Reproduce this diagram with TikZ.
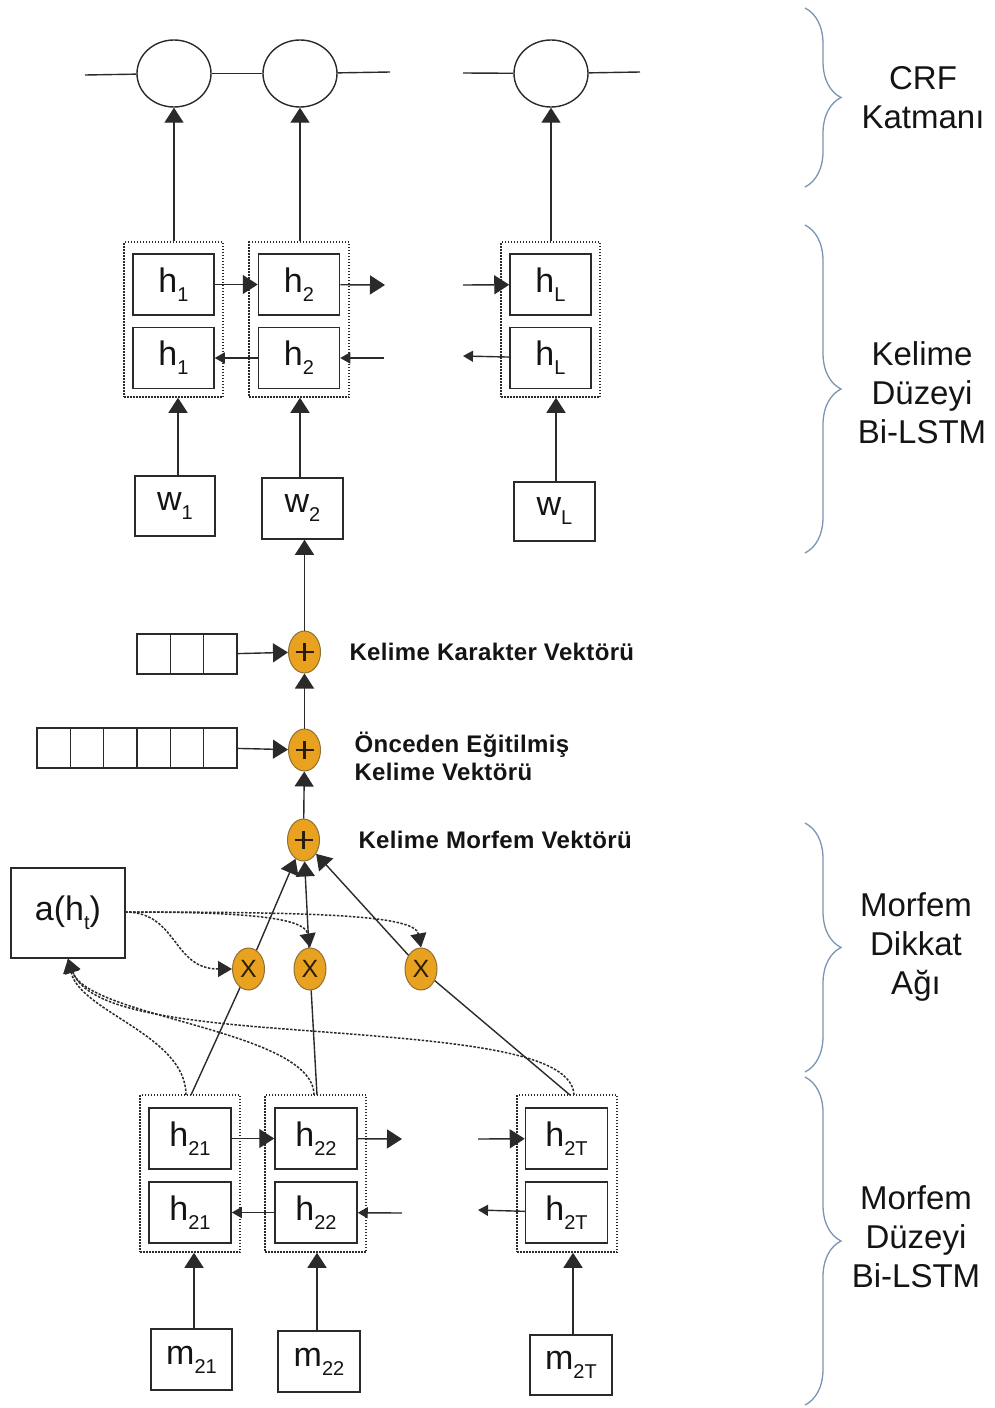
\documentclass[tikz,border=0pt]{standalone}
\usepackage{fontspec}
\setmainfont{Liberation Sans}
\newfontfamily\lblfont{Liberation Sans}[LetterSpace=1.5]
\usetikzlibrary{arrows.meta,decorations.pathreplacing,shapes.geometric}

\definecolor{linec}{HTML}{2A2A2A}
\definecolor{txtc}{HTML}{141414}
\definecolor{opfill}{HTML}{E9A21F}
\definecolor{opline}{HTML}{8E7036}
\definecolor{opmark}{HTML}{2A1E0A}
\definecolor{bracec}{HTML}{7A94B4}

% subscript used inside the boxes
\newcommand{\sbs}[1]{\raisebox{-9pt}{\fontsize{20}{20}\selectfont #1}}

\begin{document}
\begin{tikzpicture}[x=1pt,y=-1pt,
  every node/.style={text=txtc},
  cell/.style={draw=linec, line width=1.5pt, fill=white, inner sep=0pt,
    minimum width=81pt, minimum height=61pt, font=\fontsize{34}{34}\selectfont},
  grp/.style={draw=linec, line width=1.5pt, dash pattern=on 1.5pt off 1.5pt,
    inner sep=0pt},
  crf/.style={ellipse, draw=linec, line width=1.4pt, inner sep=0pt,
    minimum width=74pt, minimum height=67pt},
  op/.style={ellipse, fill=opfill, draw=opline, line width=1pt, inner sep=0pt,
    minimum width=32pt, minimum height=42pt},
  plusop/.style={op, path picture={
    \draw[line width=2.8pt, draw=opmark]
      ([xshift=-9pt]path picture bounding box.center) --
      ([xshift=9pt]path picture bounding box.center)
      ([yshift=-9pt]path picture bounding box.center) --
      ([yshift=9pt]path picture bounding box.center);}},
  mulop/.style={op, text=opmark, font=\fontsize{25}{25}\selectfont},
  vcell/.style={draw=linec, line width=1.2pt, inner sep=0pt,
    minimum width=33.33pt, minimum height=40pt},
  conn/.style={draw=linec, line width=1.4pt},
  arr/.style={conn, arrows={-Triangle[length=15pt,width=19pt]}},
  sarr/.style={conn, arrows={-Triangle[length=10pt,width=11pt]}},
  att/.style={draw=linec, line width=1.5pt, dash pattern=on 2.5pt off 1.5pt,
    arrows={-Triangle[length=14pt,width=16pt]}},
  brc/.style={draw=bracec, line width=1.3pt, decorate,
    decoration={brace, amplitude=36pt}},
  side/.style={align=center, font=\fontsize{33}{39}\selectfont},
  lbl/.style={anchor=west, align=left, font=\lblfont\bfseries\fontsize{24}{28}\selectfont}
]
\useasboundingbox (0,0) rectangle (995,1408);

% ---------- CRF layer ----------
\node[crf] (c1) at (174,73.5) {};
\node[crf] (c2) at (300,73.5) {};
\node[crf] (c3) at (551,73.5) {};
\coordinate (l0) at (85,75);
\coordinate (l1) at (390,72);
\coordinate (l2) at (463,73);
\coordinate (l3) at (640,72);
\draw[conn] (l0) -- (c1);
\draw[conn] (c1) -- (c2);
\draw[conn] (c2) -- (l1);
\draw[conn] (l2) -- (c3);
\draw[conn] (c3) -- (l3);

% ---------- word level Bi-LSTM ----------
\node[grp, minimum width=99pt, minimum height=155pt] (G1) at (173.5,319.5) {};
\node[grp, minimum width=100pt, minimum height=155pt] (G2) at (299,319.5) {};
\node[grp, minimum width=99pt, minimum height=155pt] (G3) at (550.5,319.5) {};
\node[cell] (f1) at (173.5,284.5) {h\sbs{1}};
\node[cell] (b1) at (173.5,358) {h\sbs{1}};
\node[cell] (f2) at (299,284.5) {h\sbs{2}};
\node[cell] (b2) at (299,358) {h\sbs{2}};
\node[cell] (fL) at (550.5,284.5) {h\sbs{L}};
\node[cell] (bL) at (550.5,358) {h\sbs{L}};

\coordinate (fo) at (385,285);
\coordinate (fi) at (463,285);
\coordinate (bi) at (384,358);
\coordinate (bo) at (463,356);
\draw[arr] (f1) -- (f2);
\draw[arr] (f2) -- (fo);
\draw[arr] (fi) -- (fL);
\draw[sarr] (b2) -- (b1);
\draw[sarr] (bi) -- (b2);
\draw[sarr] (bL) -- (bo);

\draw[arr] (G1.north -| c1) -- (c1.south);
\draw[arr] (G2.north -| c2) -- (c2.south);
\draw[arr] (G3.north -| c3) -- (c3.south);

\node[cell, minimum width=80pt, minimum height=60pt] (w1) at (175,506) {w\sbs{1}};
\node[cell] (w2) at (302.5,508.5) {w\sbs{2}};
\node[cell, minimum height=59pt] (wL) at (554.5,511.5) {w\sbs{L}};
\coordinate (w1t) at (178,476);
\coordinate (w2t) at (300,478);
\coordinate (wLt) at (556,482);
\draw[arr] (w1t) -- (w1t |- G1.south);
\draw[arr] (w2t) -- (w2t |- G2.south);
\draw[arr] (wLt) -- (wLt |- G3.south);

% ---------- combination of the word vectors ----------
\node[plusop] (P1) at (304.5,652) {};
\node[plusop] (P2) at (304.5,750) {};
\node[plusop] (P3) at (303.5,840) {};
\draw[arr] (P1.north) -- (P1.north |- w2.south);
\draw[arr] (P2) -- (P1);
\draw[arr] (P3) -- (P2);

\foreach \i in {1,2,3} {
  \node[vcell] (v3\i) at ({137+33.33*(\i-0.5)},654) {};
}
\foreach \i in {1,...,6} {
  \node[vcell] (v6\i) at ({37+33.33*(\i-0.5)},748) {};
}
\draw[arr] (v33) -- (P1);
\draw[arr] (v66) -- (P2);

\node[lbl] (t1) at (346,652) {Kelime Karakter Vektörü};
\node[lbl] (t2) at (351,756) {Önceden Eğitilmiş\\Kelime Vektörü};
\node[lbl] (t3) at (355,840) {Kelime Morfem Vektörü};

% ---------- morpheme attention ----------
\node[draw=linec, line width=1.5pt, inner sep=0pt, minimum width=114pt,
  minimum height=90pt, font=\fontsize{34}{34}\selectfont] (A) at (68,913) {a(h\sbs{t})};

\node[mulop] (X1) at (248.5,969) {X};
\node[mulop] (X2) at (310,969) {X};
\node[mulop] (X3) at (421,969) {X};

% ---------- morpheme level Bi-LSTM ----------
\node[grp, minimum width=100pt, minimum height=157pt] (H1) at (190,1173.5) {};
\node[grp, minimum width=101pt, minimum height=157pt] (H2) at (315.5,1173.5) {};
\node[grp, minimum width=100pt, minimum height=157pt] (H3) at (567,1173.5) {};
\node[cell, minimum width=82pt] (g1f) at (190,1138.5) {h\sbs{21}};
\node[cell, minimum width=82pt] (g1b) at (190,1212.5) {h\sbs{21}};
\node[cell, minimum width=82pt] (g2f) at (316,1138.5) {h\sbs{22}};
\node[cell, minimum width=82pt] (g2b) at (316,1212.5) {h\sbs{22}};
\node[cell, minimum width=82pt] (g3f) at (566.5,1138.5) {h\sbs{2T}};
\node[cell, minimum width=82pt] (g3b) at (566.5,1212.5) {h\sbs{2T}};

\coordinate (go) at (402,1139);
\coordinate (gi) at (478,1139);
\coordinate (gbi) at (402,1213);
\coordinate (gbo) at (478,1210);
\draw[arr] (g1f) -- (g2f);
\draw[arr] (g2f) -- (go);
\draw[arr] (gi) -- (g3f);
\draw[sarr] (g2b) -- (g1b);
\draw[sarr] (gbi) -- (g2b);
\draw[sarr] (g3b) -- (gbo);

\node[cell] (m1) at (191.5,1359.5) {m\sbs{21}};
\node[cell, minimum width=82pt] (m2) at (319,1361.5) {m\sbs{22}};
\node[cell, minimum width=82pt, minimum height=60pt] (m3) at (571,1365) {m\sbs{2T}};
\coordinate (m1t) at (194,1329);
\coordinate (m2t) at (317,1331);
\coordinate (m3t) at (573,1335);
\draw[arr] (m1t) -- (m1t |- H1.south);
\draw[arr] (m2t) -- (m2t |- H2.south);
\draw[arr] (m3t) -- (m3t |- H3.south);

% weighted morpheme states into the sum
\coordinate (s1) at (191,1095);
\coordinate (s2) at (317,1095);
\coordinate (s3) at (570,1095);
\draw[conn] (s1) -- (X1);
\draw[conn] (s2) -- (X2);
\draw[conn] (s3) -- (X3);
\draw[arr] (X1) -- (P3);
\draw[arr] (X2) -- (P3);
\draw[arr] (X3) -- (P3);

% attention weights
\coordinate (ao) at (125,912);
\draw[att] (ao) .. controls (178,912) and (172,969) .. (X1.west);
\draw[att] (ao) .. controls (250,912) and (305,918) .. (X2.north);
\draw[att] (ao) .. controls (330,912) and (415,916) .. (X3.north);

% hidden states into the attention score
\coordinate (d1) at (186,1095);
\coordinate (d2) at (314,1095);
\coordinate (d3) at (574,1095);
\coordinate (dm) at (260,1027);
\draw[att] (d1) .. controls (186,1035) and (80,1012) .. (A.south);
\draw[att] (d2) .. controls (314,1030) and (88,1018) .. (A.south);
\draw[att] (d3) .. controls (572,1045) and (420,1040) .. (dm)
  .. controls (140,1017) and (84,1002) .. (A.south);

% ---------- layer braces ----------
\coordinate (k1a) at (805,8);     \coordinate (k1b) at (805,187);
\coordinate (k2a) at (805,225);   \coordinate (k2b) at (805,553);
\coordinate (k3a) at (805,823);   \coordinate (k3b) at (805,1072);
\coordinate (k4a) at (805,1077);  \coordinate (k4b) at (805,1405);
\draw[brc] (k1a) -- (k1b);
\draw[brc] (k2a) -- (k2b);
\draw[brc] (k3a) -- (k3b);
\draw[brc] (k4a) -- (k4b);
\node[side] (n1) at (923,98) {CRF\\Katmanı};
\node[side] (n2) at (922,393) {Kelime\\Düzeyi\\Bi-LSTM};
\node[side] (n3) at (916,947) {Morfem\\Dikkat\\Ağı};
\node[side] (n4) at (916,1237) {Morfem\\Düzeyi\\Bi-LSTM};
\end{tikzpicture}
\end{document}
